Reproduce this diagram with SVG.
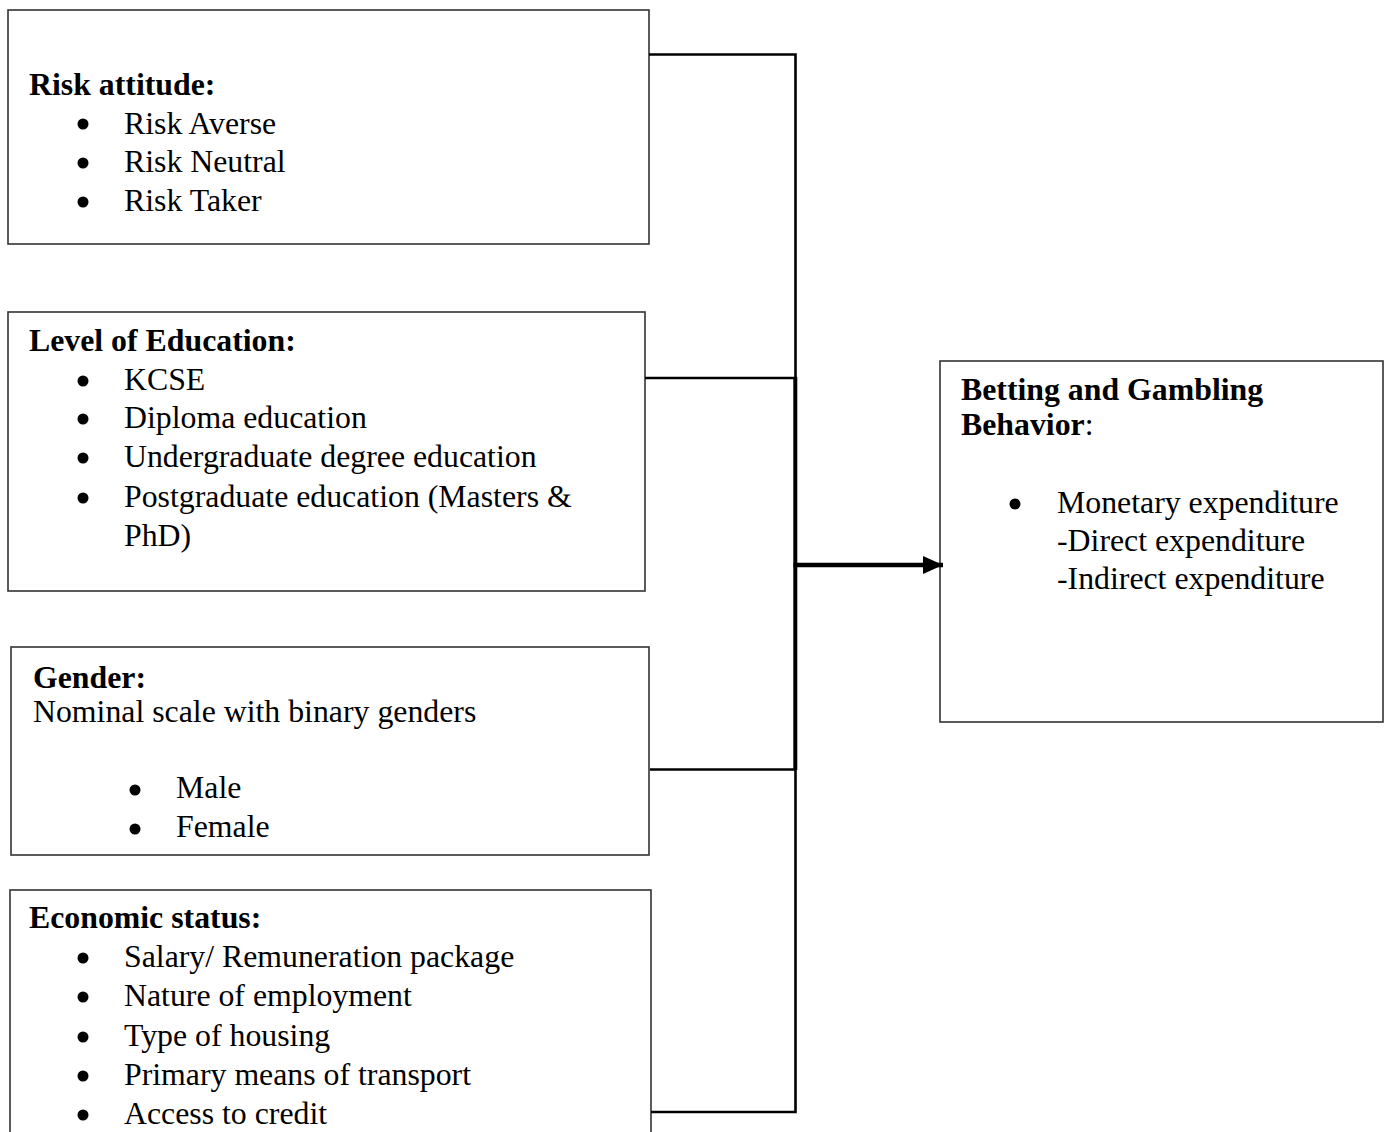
<svg xmlns="http://www.w3.org/2000/svg" width="1388" height="1132" viewBox="0 0 1388 1132">
<style>
  .box { fill: #ffffff; stroke: #333333; stroke-width: 1.6; }
  .t { font-family: "Liberation Serif", "Times New Roman", serif; font-size: 31.8px; fill: #000000; }
  .b { font-weight: bold; }
  .dot { fill: #000000; }
  .ln { stroke: #000000; stroke-width: 2.6; fill: none; }
</style>
<defs>
  <marker id="arrow" markerUnits="userSpaceOnUse" markerWidth="22" markerHeight="20" refX="20" refY="9" orient="auto">
    <path d="M0,0 L20,9 L0,18 z" fill="#000000"/>
  </marker>
</defs>
<rect width="1388" height="1132" fill="#ffffff"/>

<g id="risk-attitude">
  <rect class="box" x="8" y="10" width="641" height="234"/>
  <text class="t b" x="29" y="95">Risk attitude:</text>
  <circle class="dot" cx="83" cy="124" r="5.5"/>
  <text class="t" x="124" y="134">Risk Averse</text>
  <circle class="dot" cx="83" cy="163" r="5.5"/>
  <text class="t" x="124" y="172">Risk Neutral</text>
  <circle class="dot" cx="83" cy="202" r="5.5"/>
  <text class="t" x="124" y="211">Risk Taker</text>
</g>

<g id="education">
  <rect class="box" x="8" y="312" width="637" height="279"/>
  <text class="t b" x="29" y="351">Level of Education:</text>
  <circle class="dot" cx="83" cy="381" r="5.5"/>
  <text class="t" x="124" y="390">KCSE</text>
  <circle class="dot" cx="83" cy="419" r="5.5"/>
  <text class="t" x="124" y="428">Diploma education</text>
  <circle class="dot" cx="83" cy="458" r="5.5"/>
  <text class="t" x="124" y="467">Undergraduate degree education</text>
  <circle class="dot" cx="83" cy="498" r="5.5"/>
  <text class="t" x="124" y="507">Postgraduate education (Masters &amp;</text>
  <text class="t" x="124" y="546">PhD)</text>
</g>

<g id="gender">
  <rect class="box" x="11" y="647" width="638" height="208"/>
  <text class="t b" x="33" y="688">Gender:</text>
  <text class="t" x="33" y="722">Nominal scale with binary genders</text>
  <circle class="dot" cx="135" cy="790" r="5.5"/>
  <text class="t" x="176" y="798">Male</text>
  <circle class="dot" cx="135" cy="829" r="5.5"/>
  <text class="t" x="176" y="837">Female</text>
</g>

<g id="economic-status">
  <rect class="box" x="10" y="890" width="641" height="260"/>
  <text class="t b" x="29" y="928">Economic status:</text>
  <circle class="dot" cx="83" cy="958" r="5.5"/>
  <text class="t" x="124" y="967">Salary/ Remuneration package</text>
  <circle class="dot" cx="83" cy="997" r="5.5"/>
  <text class="t" x="124" y="1006">Nature of employment</text>
  <circle class="dot" cx="83" cy="1037" r="5.5"/>
  <text class="t" x="124" y="1046">Type of housing</text>
  <circle class="dot" cx="83" cy="1076" r="5.5"/>
  <text class="t" x="124" y="1085">Primary means of transport</text>
  <circle class="dot" cx="83" cy="1115" r="5.5"/>
  <text class="t" x="124" y="1124">Access to credit</text>
</g>

<g id="betting-behavior">
  <rect class="box" x="940" y="361" width="443" height="361"/>
  <text class="t" x="961" y="400"><tspan class="b">Betting and Gambling</tspan></text>
  <text class="t" x="961" y="435"><tspan class="b">Behavior</tspan>:</text>
  <circle class="dot" cx="1015" cy="504" r="5.5"/>
  <text class="t" x="1057" y="513">Monetary expenditure</text>
  <text class="t" x="1057" y="551">-Direct expenditure</text>
  <text class="t" x="1057" y="589">-Indirect expenditure</text>
</g>

<g id="connectors">
  <polyline class="ln" points="649,54.5 795.5,54.5 795.5,1112 651,1112"/>
  <line class="ln" x1="645" y1="378" x2="795.5" y2="378"/>
  <line class="ln" x1="650" y1="769.5" x2="795.5" y2="769.5"/>
  <line x1="795.3" y1="377" x2="795.3" y2="770" stroke="#000000" stroke-width="4"/>
  <line x1="793.5" y1="565" x2="943" y2="565" stroke="#000000" stroke-width="4.5" marker-end="url(#arrow)"/>
</g>
</svg>
